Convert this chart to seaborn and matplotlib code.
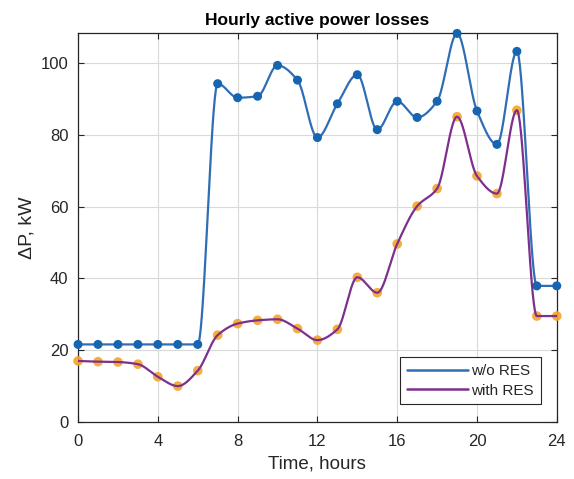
import numpy as np
import pandas as pd
import matplotlib
matplotlib.use("Agg")
import matplotlib.pyplot as plt
import seaborn as sns
from matplotlib.lines import Line2D

# data
hours = list(range(25))
without_res = [21.6, 21.6, 21.6, 21.6, 21.6, 21.6, 21.6, 94.2, 90.3, 90.7, 99.3,
               95.2, 79.2, 88.6, 96.7, 81.4, 89.3, 84.8, 89.3, 108.2, 86.6,
               77.3, 103.2, 37.9, 37.9]
with_res = [17.0, 16.8, 16.7, 16.1, 12.6, 10.0, 14.3, 24.2, 27.4, 28.3, 28.6,
            26.0, 22.8, 25.8, 40.3, 36.0, 49.6, 60.1, 65.0, 85.0, 68.5,
            63.6, 86.8, 29.5, 29.5]


def pchip_curve(x, y, n=40):
    # shape preserving cubic, like MATLAB pchip, only used to draw the line
    x = np.asarray(x, float)
    y = np.asarray(y, float)
    h = np.diff(x)
    d = np.diff(y) / h
    m = np.zeros_like(y)
    for k in range(1, len(x) - 1):
        if d[k - 1] * d[k] > 0:
            w1 = 2 * h[k] + h[k - 1]
            w2 = h[k] + 2 * h[k - 1]
            m[k] = (w1 + w2) / (w1 / d[k - 1] + w2 / d[k])

    def end_slope(h0, h1, d0, d1):
        s = ((2 * h0 + h1) * d0 - h0 * d1) / (h0 + h1)
        if np.sign(s) != np.sign(d0):
            return 0.0
        if np.sign(d0) != np.sign(d1) and abs(s) > abs(3 * d0):
            return 3 * d0
        return s

    m[0] = end_slope(h[0], h[1], d[0], d[1])
    m[-1] = end_slope(h[-1], h[-2], d[-1], d[-2])
    xs, ys = [], []
    for k in range(len(x) - 1):
        t = np.linspace(0, 1, n, endpoint=(k == len(x) - 2))
        h00 = 2 * t**3 - 3 * t**2 + 1
        h10 = t**3 - 2 * t**2 + t
        h01 = -2 * t**3 + 3 * t**2
        h11 = t**3 - t**2
        xs.append(x[k] + t * h[k])
        ys.append(h00 * y[k] + h10 * h[k] * m[k] + h01 * y[k + 1] + h11 * h[k] * m[k + 1])
    return np.concatenate(xs), np.concatenate(ys)


sns.set_style("whitegrid")
plt.rcParams['font.family'] = ['Liberation Sans', 'DejaVu Sans']

fig = plt.figure(figsize=(5.74, 4.79), dpi=100)
ax = fig.add_axes([0.136, 0.119, 0.834, 0.812])

blue_line = "#2f6db5"
blue_dot = "#1565b0"
purple = "#7e2f8e"
orange = "#f5a42a"

# w/o RES
cx, cy = pchip_curve(hours, without_res)
sns.lineplot(x=cx, y=cy, ax=ax, color=blue_line, lw=1.6, sort=False)
sns.scatterplot(x=hours, y=without_res, ax=ax, color=blue_dot, s=42,
                edgecolor="none", zorder=3, clip_on=False)

# with RES
sns.scatterplot(x=hours, y=with_res, ax=ax, color=orange, s=48,
                edgecolor="none", alpha=0.9, zorder=3, clip_on=False)
cx, cy = pchip_curve(hours, with_res)
sns.lineplot(x=cx, y=cy, ax=ax, color=purple, lw=1.6, sort=False, zorder=4)

ax.set_xlim(0, 24)
ax.set_ylim(0, 108.3)
ax.set_xticks(range(0, 25, 4))
ax.set_yticks(range(0, 101, 20))
ax.grid(True, color="#d9d9d9", lw=0.8)
ax.tick_params(direction="in", length=4, labelsize=12, colors="#262626",
               bottom=True, left=True, top=True, right=True,
               labeltop=False, labelright=False)
ax.tick_params(axis="x", pad=9)
ax.tick_params(axis="y", pad=7)
for sp in ax.spines.values():
    sp.set_color("#262626")
    sp.set_linewidth(0.9)

ax.set_title("Hourly active power losses", fontsize=12.5, fontweight="bold",
             pad=6, color="black")
ax.set_xlabel("Time, hours", fontsize=13.5, labelpad=4, color="#262626")
ax.set_ylabel("ΔP, kW", fontsize=14, labelpad=4, color="#262626")

handles = [Line2D([0], [0], color=blue_line, lw=1.8),
           Line2D([0], [0], color=purple, lw=1.8)]
leg = ax.legend(handles, ["w/o RES", "with RES"], loc="lower right",
                bbox_to_anchor=(0.967, 0.045), fontsize=11, frameon=True,
                fancybox=False, edgecolor="#262626", framealpha=1,
                handlelength=4.0, handletextpad=0.2, borderpad=0.45,
                labelspacing=0.35, borderaxespad=0.0)
leg.get_frame().set_linewidth(0.8)

fig.savefig("out.png", dpi=100)
